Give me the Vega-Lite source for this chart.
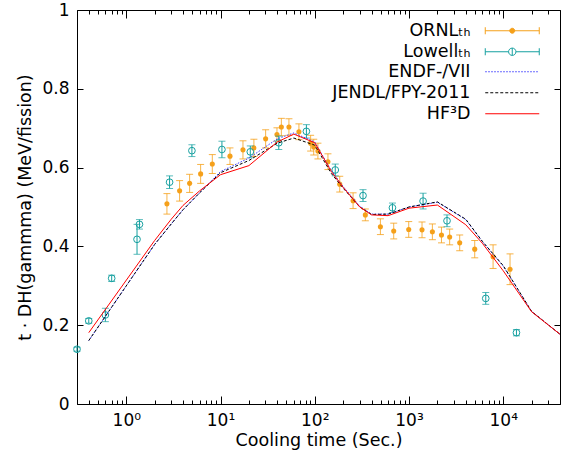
{
  "$schema": "https://vega.github.io/schema/vega-lite/v6.json",
  "width": 483,
  "height": 394,
  "autosize": {"type": "none"},
  "padding": {"left": 77, "top": 10, "right": 3, "bottom": 50},
  "background": "white",
  "config": {
    "view": {"stroke": "black", "strokeWidth": 1},
    "font": "DejaVu Sans",
    "axis": {
      "domain": false, "grid": false, "tickColor": "black", "labelColor": "black", "titleColor": "black",
      "labelFont": "DejaVu Sans", "titleFont": "DejaVu Sans", "labelFontSize": 17, "titleFontSize": 17.5,
      "titleFontWeight": "normal", "labelOverlap": false, "labelFlush": false, "tickWidth": 1
    },
    "legend": {
      "orient": "none", "legendX": 426.5, "title": null, "padding": 0,
      "labelFont": "DejaVu Sans", "labelFontSize": 17.5, "labelColor": "black", "labelAlign": "right",
      "labelOffset": -50.5, "labelLimit": 300, "symbolSize": 225, "symbolStrokeWidth": 1, "symbolOpacity": 1,
      "symbolBaseStrokeColor": "#f5a01a"
    }
  },
  "datasets": {
    "ornl": [
      {"t": 2.70, "v": 0.508, "err": 0.026}, {"t": 3.68, "v": 0.541, "err": 0.026}, {"t": 4.70, "v": 0.560, "err": 0.023},
      {"t": 6.15, "v": 0.584, "err": 0.024}, {"t": 8.18, "v": 0.609, "err": 0.024}, {"t": 12.6, "v": 0.629, "err": 0.021},
      {"t": 17.3, "v": 0.645, "err": 0.023}, {"t": 22.6, "v": 0.650, "err": 0.022}, {"t": 30.1, "v": 0.673, "err": 0.023},
      {"t": 39.7, "v": 0.684, "err": 0.017}, {"t": 44.2, "v": 0.703, "err": 0.022}, {"t": 53.2, "v": 0.703, "err": 0.021},
      {"t": 67.9, "v": 0.691, "err": 0.020}, {"t": 90.4, "v": 0.662, "err": 0.020}, {"t": 97.5, "v": 0.652, "err": 0.020},
      {"t": 108, "v": 0.642, "err": 0.020}, {"t": 138, "v": 0.615, "err": 0.020}, {"t": 184, "v": 0.558, "err": 0.020},
      {"t": 255, "v": 0.516, "err": 0.020}, {"t": 344, "v": 0.480, "err": 0.015}, {"t": 497, "v": 0.450, "err": 0.020},
      {"t": 688, "v": 0.439, "err": 0.020}, {"t": 993, "v": 0.443, "err": 0.020}, {"t": 1374, "v": 0.442, "err": 0.020},
      {"t": 1770, "v": 0.437, "err": 0.020}, {"t": 2210, "v": 0.429, "err": 0.020}, {"t": 2700, "v": 0.424, "err": 0.020},
      {"t": 3450, "v": 0.409, "err": 0.020}, {"t": 4980, "v": 0.393, "err": 0.022}, {"t": 7800, "v": 0.374, "err": 0.030},
      {"t": 11800, "v": 0.342, "err": 0.039}
    ],
    "lowell": [
      {"t": 0.30, "v": 0.139, "err": 0.005}, {"t": 0.40, "v": 0.211, "err": 0.006}, {"t": 0.60, "v": 0.226, "err": 0.017},
      {"t": 0.70, "v": 0.319, "err": 0.008}, {"t": 1.30, "v": 0.418, "err": 0.038}, {"t": 1.38, "v": 0.456, "err": 0.012},
      {"t": 2.88, "v": 0.563, "err": 0.016}, {"t": 4.97, "v": 0.643, "err": 0.015}, {"t": 10.35, "v": 0.646, "err": 0.021},
      {"t": 20.7, "v": 0.640, "err": 0.015}, {"t": 41.5, "v": 0.663, "err": 0.017}, {"t": 81.5, "v": 0.692, "err": 0.017},
      {"t": 165, "v": 0.594, "err": 0.015}, {"t": 325, "v": 0.529, "err": 0.015}, {"t": 667, "v": 0.498, "err": 0.012},
      {"t": 1410, "v": 0.515, "err": 0.020}, {"t": 2530, "v": 0.465, "err": 0.015}, {"t": 6520, "v": 0.268, "err": 0.015},
      {"t": 13800, "v": 0.181, "err": 0.008}
    ],
    "endf": [
      {"t": 0.4, "v": 0.161}, {"t": 2, "v": 0.405}, {"t": 3, "v": 0.457}, {"t": 4, "v": 0.493}, {"t": 6, "v": 0.536},
      {"t": 10, "v": 0.590}, {"t": 20, "v": 0.624}, {"t": 40, "v": 0.673}, {"t": 60, "v": 0.688}, {"t": 100, "v": 0.665},
      {"t": 150, "v": 0.592}, {"t": 200, "v": 0.552}, {"t": 300, "v": 0.502}, {"t": 400, "v": 0.482}, {"t": 600, "v": 0.482},
      {"t": 1000, "v": 0.500}, {"t": 2000, "v": 0.512}, {"t": 4000, "v": 0.468}, {"t": 6000, "v": 0.412},
      {"t": 10000, "v": 0.350}, {"t": 20000, "v": 0.235}, {"t": 40000, "v": 0.177}
    ],
    "jendl": [
      {"t": 0.4, "v": 0.161}, {"t": 2, "v": 0.405}, {"t": 3, "v": 0.457}, {"t": 4, "v": 0.493}, {"t": 6, "v": 0.536},
      {"t": 10, "v": 0.587}, {"t": 20, "v": 0.618}, {"t": 40, "v": 0.662}, {"t": 60, "v": 0.675}, {"t": 100, "v": 0.657},
      {"t": 150, "v": 0.585}, {"t": 200, "v": 0.548}, {"t": 300, "v": 0.500}, {"t": 400, "v": 0.481}, {"t": 600, "v": 0.482},
      {"t": 1000, "v": 0.500}, {"t": 2000, "v": 0.513}, {"t": 4000, "v": 0.469}, {"t": 6000, "v": 0.413},
      {"t": 10000, "v": 0.351}, {"t": 20000, "v": 0.235}, {"t": 40000, "v": 0.177}
    ],
    "hf3d": [
      {"t": 0.4, "v": 0.181}, {"t": 2, "v": 0.415}, {"t": 3, "v": 0.469}, {"t": 4, "v": 0.504}, {"t": 6, "v": 0.541},
      {"t": 10, "v": 0.582}, {"t": 20, "v": 0.605}, {"t": 40, "v": 0.665}, {"t": 60, "v": 0.685}, {"t": 100, "v": 0.663},
      {"t": 150, "v": 0.590}, {"t": 200, "v": 0.550}, {"t": 300, "v": 0.500}, {"t": 400, "v": 0.480}, {"t": 600, "v": 0.478},
      {"t": 1000, "v": 0.497}, {"t": 2000, "v": 0.505}, {"t": 4000, "v": 0.455}, {"t": 6000, "v": 0.408},
      {"t": 10000, "v": 0.338}, {"t": 20000, "v": 0.234}, {"t": 40000, "v": 0.177}
    ]
  },
  "layer": [
    {
      "data": {"name": "ornl"},
      "mark": {"type": "errorbar", "ticks": {"size": 7}, "thickness": 1, "opacity": 0.8},
      "encoding": {
        "x": {"field": "t", "type": "quantitative", "scale": {"type": "log", "domain": [0.3, 40000], "nice": false}, "axis": null},
        "y": {"field": "v", "type": "quantitative", "scale": {"domain": [0, 1], "nice": false}, "axis": null},
        "yError": {"field": "err"},
        "color": {"datum": "ORNLₜₕ", "type": "nominal", "scale": {"range": ["#f5a01a"]},
          "legend": {"legendY": 12, "symbolStrokeColor": "#f5a01a", "symbolFillColor": "#f5a01a",
            "symbolType": "M-3.6,0H3.6M-3.6,-0.47V0.47M3.6,-0.47V0.47M0.33,0A0.33,0.33,0,1,1,-0.33,0A0.33,0.33,0,1,1,0.33,0Z"}}
      }
    },
    {
      "data": {"name": "ornl"},
      "mark": {"type": "point", "shape": "circle", "filled": true, "size": 26, "opacity": 1},
      "encoding": {
        "x": {"field": "t", "type": "quantitative", "scale": {"type": "log", "domain": [0.3, 40000], "nice": false},
          "axis": {"orient": "top", "title": null, "labels": false, "tickSize": -4,
            "values": [0.3,0.4,0.5,0.6,0.7,0.8,0.9,2,3,4,5,6,7,8,9,20,30,40,50,60,70,80,90,200,300,400,500,600,700,800,900,2000,3000,4000,5000,6000,7000,8000,9000,20000,30000,40000]}},
        "y": {"field": "v", "type": "quantitative", "scale": {"domain": [0, 1], "nice": false}, "axis": null},
        "color": {"datum": "ORNLₜₕ", "type": "nominal", "scale": {"range": ["#f5a01a"]}, "legend": null}
      }
    },
    {
      "data": {"name": "lowell"},
      "mark": {"type": "errorbar", "ticks": {"size": 7}, "thickness": 1},
      "encoding": {
        "x": {"field": "t", "type": "quantitative", "scale": {"type": "log", "domain": [0.3, 40000], "nice": false}, "axis": null},
        "y": {"field": "v", "type": "quantitative", "scale": {"domain": [0, 1], "nice": false}, "axis": null},
        "yError": {"field": "err"},
        "color": {"datum": "Lowellₜₕ", "type": "nominal", "scale": {"range": ["#16a0a0"]}, "legend": null}
      }
    },
    {
      "data": {"name": "lowell"},
      "mark": {"type": "point", "shape": "circle", "filled": false, "size": 45, "strokeWidth": 1, "opacity": 1},
      "encoding": {
        "x": {"field": "t", "type": "quantitative", "scale": {"type": "log", "domain": [0.3, 40000], "nice": false}, "axis": null},
        "y": {"field": "v", "type": "quantitative", "scale": {"domain": [0, 1], "nice": false}, "axis": null},
        "color": {"datum": "Lowellₜₕ", "type": "nominal", "scale": {"range": ["#16a0a0"]},
          "legend": {"legendY": 33, "symbolStrokeColor": "#16a0a0", "symbolFillColor": "transparent",
            "symbolType": "M-3.6,0H-0.49M0.49,0H3.6M-3.6,-0.47V0.47M3.6,-0.47V0.47M0,-0.49V0.49M0.49,0A0.49,0.49,0,1,1,-0.49,0A0.49,0.49,0,1,1,0.49,0"}}
      }
    },
    {
      "data": {"name": "endf"},
      "mark": {"type": "line", "strokeWidth": 1, "strokeDash": [1.5, 1.5]},
      "encoding": {
        "x": {"field": "t", "type": "quantitative", "scale": {"type": "log", "domain": [0.3, 40000], "nice": false},
          "axis": {"orient": "top", "title": null, "labels": false, "tickSize": -8, "values": [1, 10, 100, 1000, 10000]}},
        "y": {"field": "v", "type": "quantitative", "scale": {"domain": [0, 1], "nice": false},
          "axis": {"orient": "right", "title": null, "labels": false, "values": [0, 0.2, 0.4, 0.6, 0.8, 1], "tickSize": -6}},
        "color": {"datum": "ENDF-/VII", "type": "nominal", "scale": {"range": ["#3a3aff"]},
          "legend": {"legendY": 53, "symbolStrokeColor": "#3a3aff", "symbolFillColor": "transparent", "symbolDash": [1.5, 1.5],
            "symbolType": "M-3.6,0H3.6"}}
      }
    },
    {
      "data": {"name": "jendl"},
      "mark": {"type": "line", "strokeWidth": 1, "strokeDash": [3, 2]},
      "encoding": {
        "x": {"field": "t", "type": "quantitative", "scale": {"type": "log", "domain": [0.3, 40000], "nice": false},
          "axis": {"orient": "bottom", "title": null, "labels": false, "tickSize": -4,
            "values": [0.3,0.4,0.5,0.6,0.7,0.8,0.9,2,3,4,5,6,7,8,9,20,30,40,50,60,70,80,90,200,300,400,500,600,700,800,900,2000,3000,4000,5000,6000,7000,8000,9000,20000,30000,40000]}},
        "y": {"field": "v", "type": "quantitative", "scale": {"domain": [0, 1], "nice": false}, "axis": null},
        "color": {"datum": "JENDL/FPY-2011", "type": "nominal", "scale": {"range": ["black"]},
          "legend": {"legendY": 74, "symbolStrokeColor": "black", "symbolFillColor": "transparent", "symbolDash": [3, 2],
            "symbolType": "M-3.6,0H3.6"}}
      }
    },
    {
      "data": {"name": "hf3d"},
      "mark": {"type": "line", "strokeWidth": 1},
      "encoding": {
        "x": {"field": "t", "type": "quantitative", "scale": {"type": "log", "domain": [0.3, 40000], "nice": false},
          "axis": {"orient": "bottom", "title": "Cooling time (Sec.)", "titlePadding": 3, "labelPadding": 16, "tickSize": -8,
            "values": [1, 10, 100, 1000, 10000],
            "labelExpr": "'10' + ['⁰','¹','²','³','⁴'][round(log(datum.value)/LN10)]"}},
        "y": {"field": "v", "type": "quantitative", "scale": {"domain": [0, 1], "nice": false},
          "axis": {"orient": "left", "title": "t · DH(gammma) (MeV/fission)", "titlePadding": 7, "labelPadding": 14,
            "values": [0, 0.2, 0.4, 0.6, 0.8, 1], "format": "~g", "tickSize": -6}},
        "color": {"datum": "HF³D", "type": "nominal", "scale": {"range": ["red"]},
          "legend": {"legendY": 95, "symbolStrokeColor": "red", "symbolFillColor": "transparent",
            "symbolType": "M-3.6,0H3.6"}}
      }
    }
  ],
  "resolve": {"axis": {"x": "independent", "y": "independent"}, "scale": {"color": "independent"}, "legend": {"color": "independent"}}
}
